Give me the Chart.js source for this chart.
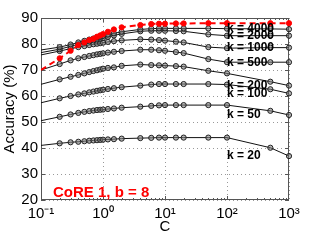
<!DOCTYPE html>
<html>
<head>
<meta charset="utf-8">
<script src="https://cdn.jsdelivr.net/npm/chart.js@4"></script>
<style>
  html, body { margin: 0; padding: 0; background: #fff; }
  #wrap { width: 319px; height: 240px; }
</style>
</head>
<body>
<div id="wrap"><canvas id="chart" width="319" height="240"></canvas></div>
<script>
// C values (first one sits on the left edge, no marker)
const cValues = [0.1, 0.2, 0.3, 0.4, 0.5, 0.6, 0.7, 0.8, 0.9, 1, 1.2, 1.5, 2, 4, 6, 8, 10, 15, 20, 50, 100, 500, 1000];

// accuracy (%) per k
const accOriginal = [70.0, 74.5, 77.4, 79.6, 80.6, 81.5, 82.0, 82.8, 83.3, 83.8, 84.7, 85.6, 86.4, 87.3, 87.7, 87.8, 87.8, 87.9, 87.9, 88.0, 88.0, 88.0, 88.0];
const acc4000 = [77.7, 78.8, 79.8, 80.6, 81.2, 81.7, 82.1, 82.5, 82.8, 83.1, 83.6, 84.1, 84.7, 85.6, 85.9, 86.0, 86.0, 86.0, 86.0, 86.0, 85.9, 85.8, 85.7];
const acc2000 = [76.7, 78.0, 79.1, 79.9, 80.5, 81.0, 81.4, 81.7, 82.0, 82.3, 82.8, 83.3, 83.9, 84.9, 85.1, 85.1, 85.1, 85.0, 84.9, 83.7, 83.2, 83.2, 83.2];
const acc1000 = [75.8, 77.3, 78.2, 78.8, 79.2, 79.6, 79.9, 80.1, 80.3, 80.5, 80.8, 81.1, 81.4, 81.8, 81.7, 81.5, 81.3, 80.9, 80.6, 78.8, 78.4, 78.6, 78.6];
const acc500 = [70.0, 72.3, 73.7, 74.5, 75.0, 75.4, 75.7, 76.0, 76.2, 76.4, 76.7, 77.0, 77.3, 77.8, 77.8, 77.6, 77.4, 76.9, 76.5, 74.2, 73.0, 73.0, 73.0];
const acc200 = [64.5, 66.4, 67.4, 68.1, 68.7, 69.2, 69.6, 69.9, 70.2, 70.5, 70.8, 71.0, 71.6, 72.1, 71.9, 71.8, 71.7, 71.5, 71.3, 69.7, 68.7, 65.5, 64.0];
const acc100 = [57.4, 59.1, 60.0, 60.6, 61.0, 61.4, 61.7, 62.0, 62.2, 62.4, 62.7, 63.0, 63.4, 64.0, 64.4, 64.6, 64.6, 64.6, 64.6, 64.6, 64.4, 62.6, 61.0];
const acc50 = [50.5, 52.0, 52.9, 53.5, 53.9, 54.2, 54.4, 54.6, 54.7, 54.8, 55.0, 55.2, 55.5, 55.9, 56.2, 56.4, 56.5, 56.5, 56.5, 56.5, 56.5, 54.3, 52.7];
const acc20 = [41.0, 41.8, 42.2, 42.4, 42.6, 42.8, 42.9, 43.0, 43.1, 43.2, 43.3, 43.4, 43.6, 43.8, 43.9, 44.0, 44.0, 44.0, 44.0, 44.0, 44.0, 40.1, 36.9];

const kSeries = [acc4000, acc2000, acc1000, acc500, acc200, acc100, acc50, acc20];
const kLabels = ["k = 4000", "k = 2000", "k = 1000", "k = 500", "k = 200", "k = 100", "k = 50", "k = 20"];

const xTicks = [0.1, 1, 10, 100, 1000];
const xTickLabels = ["10\u207B\u00B9", "10\u2070", "10\u00B9", "10\u00B2", "10\u00B3"];
const yTicks = [20, 30, 40, 50, 60, 70, 80, 90];

const FONT = "'Liberation Sans', Arial, Helvetica, sans-serif";
const LABEL_AT_C = 100;

function points(arr) {
  return cValues.map((c, i) => ({ x: c, y: arr[i] }));
}

const hideFirst = (ctx) => (ctx.dataIndex === 0 ? 0 : 2.6);

const datasets = [
  {
    label: "original",
    data: points(accOriginal),
    borderColor: "#ff0000",
    backgroundColor: "#ff0000",
    borderWidth: 2,
    borderDash: [6, 4],
    pointRadius: hideFirst,
    pointBorderWidth: 1,
    pointBackgroundColor: "#ff0000",
    pointBorderColor: "#ff0000",
  },
];
kSeries.forEach((arr, i) => {
  datasets.push({
    label: kLabels[i],
    data: points(arr),
    borderColor: "#111",
    borderWidth: 1,
    pointRadius: hideFirst,
    pointBorderWidth: 1,
    pointBorderColor: "#222",
    pointBackgroundColor: "rgba(120,120,120,0.55)",
  });
});

// box, inward ticks, text labels
const decorPlugin = {
  id: "decor",
  beforeDatasetsDraw(chart) {
    const { ctx, chartArea: a, scales } = chart;
    const xs = scales.x, ys = scales.y;
    ctx.save();
    ctx.strokeStyle = "#555";
    ctx.lineWidth = 1;
    ctx.beginPath();
    // major y ticks (left and right)
    yTicks.forEach((v) => {
      const py = Math.round(ys.getPixelForValue(v)) + 0.5;
      ctx.moveTo(a.left, py); ctx.lineTo(a.left + 4, py);
      ctx.moveTo(a.right, py); ctx.lineTo(a.right - 4, py);
    });
    // major and minor x ticks (bottom and top)
    for (let d = 0.1; d < 1000; d *= 10) {
      for (let m = 1; m < 10; m++) {
        const v = d * m;
        const px = Math.round(xs.getPixelForValue(v)) + 0.5;
        const len = m === 1 ? 4 : 2;
        ctx.moveTo(px, a.bottom); ctx.lineTo(px, a.bottom - len);
        ctx.moveTo(px, a.top); ctx.lineTo(px, a.top + len);
      }
    }
    ctx.stroke();
    ctx.strokeRect(a.left + 0.5, a.top + 0.5, a.width - 1, a.height - 1);
    ctx.restore();
  },
  afterDatasetsDraw(chart) {
    const { ctx, chartArea: a, scales } = chart;
    ctx.save();
    ctx.fillStyle = "#000";
    ctx.font = "bold 12px " + FONT;
    ctx.textAlign = "left";
    ctx.textBaseline = "middle";
    kSeries.forEach((arr, i) => {
      const px = scales.x.getPixelForValue(LABEL_AT_C);
      const py = scales.y.getPixelForValue(arr[arr.length - 1]);
      ctx.fillText(kLabels[i], px, py);
    });
    ctx.fillStyle = "#ff0000";
    ctx.font = "bold 15px " + FONT;
    ctx.fillText("CoRE 1, b = 8", a.left + 12, a.bottom - 7);
    ctx.restore();
  },
};

new Chart(document.getElementById("chart"), {
  type: "line",
  data: { datasets: datasets },
  options: {
    responsive: false,
    animation: false,
    layout: { padding: { left: 0, right: 30, top: 18, bottom: 0 } },
    plugins: {
      legend: { display: false },
      tooltip: { enabled: false },
    },
    elements: { line: { tension: 0 } },
    datasets: { line: { clip: { left: 0, top: 6, right: 6, bottom: 0 } } },
    scales: {
      x: {
        type: "logarithmic",
        min: 0.1,
        max: 1000,
        afterBuildTicks(scale) {
          scale.ticks = xTicks.map((v) => ({ value: v }));
        },
        afterFit(scale) {
          scale.height = 40;
        },
        ticks: {
          autoSkip: false,
          maxRotation: 0,
          padding: 5,
          color: "#000",
          font: { family: FONT, size: 15 },
          callback: (v) => {
            const i = xTicks.indexOf(v);
            return i >= 0 ? xTickLabels[i] : "";
          },
        },
        grid: {
          drawTicks: false,
          color: "#999",
          lineWidth: 1,
        },
        border: { display: false, dash: [1, 3] },
        title: {
          display: true,
          text: "C",
          color: "#000",
          font: { family: FONT, size: 15 },
          padding: { top: 0, bottom: 4 },
        },
      },
      y: {
        min: 20,
        max: 90,
        afterBuildTicks(scale) {
          scale.ticks = yTicks.map((v) => ({ value: v }));
        },
        afterFit(scale) {
          scale.width = 41;
        },
        ticks: {
          padding: 3,
          color: "#000",
          font: { family: FONT, size: 15 },
        },
        grid: {
          drawTicks: false,
          color: "#999",
          lineWidth: 1,
        },
        border: { display: false, dash: [1, 3] },
        title: {
          display: true,
          text: "Accuracy (%)",
          color: "#000",
          font: { family: FONT, size: 15 },
          padding: { top: 1, bottom: 0 },
        },
      },
    },
  },
  plugins: [decorPlugin],
});
</script>
</body>
</html>
